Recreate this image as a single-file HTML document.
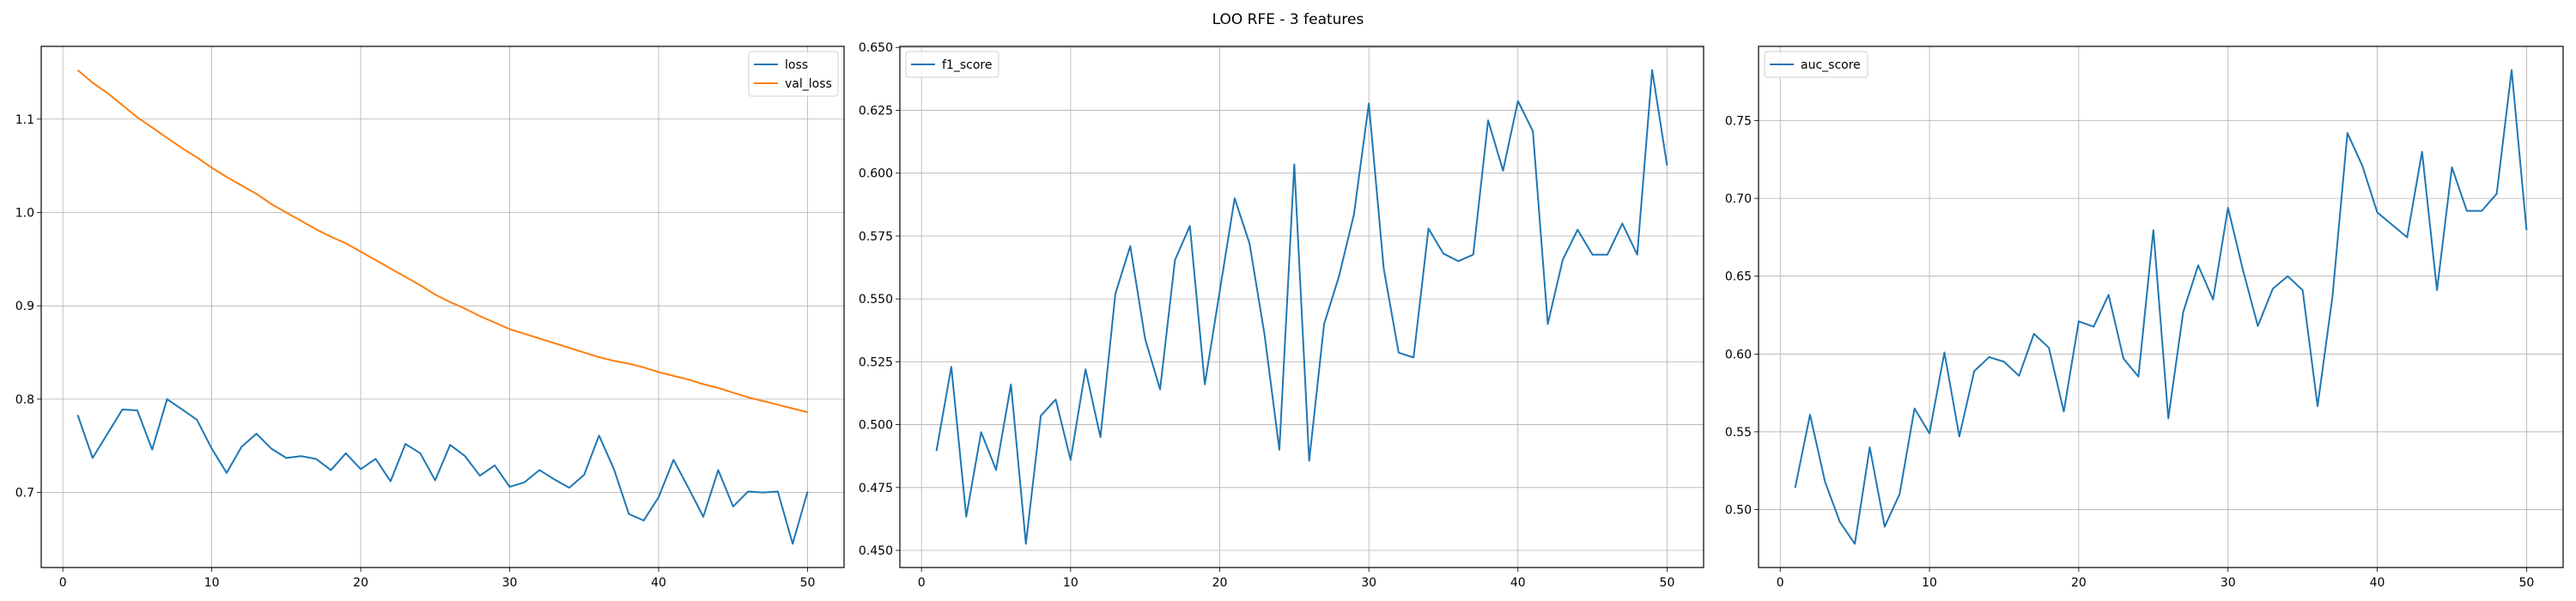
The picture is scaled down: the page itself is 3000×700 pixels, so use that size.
<!DOCTYPE html>
<html><head><meta charset="utf-8"><style>
html,body{margin:0;padding:0;background:#fff;}
svg{display:block;font-family:"DejaVu Sans","Liberation Sans",sans-serif;}
</style></head><body>
<svg id="fig" width="3000" height="700" viewBox="0 0 3000 700">
<rect width="3000" height="700" fill="#fff"/>
<text x="1500" y="28" text-anchor="middle" font-size="17">LOO RFE - 3 features</text>
</svg>
<script>
const epochs = Array.from({length:50},(_,i)=>i+1);
const lossValues = [.783,.737,.763,.789,.788,.746,.800,.789,.778,.747,.721,.749,.763,.747,.737,.739,.736,.724,.742,.725,.736,.712,.752,.742,.713,.751,.739,.718,.729,.706,.711,.724,.714,.705,.719,.761,.725,.677,.670,.695,.735,.705,.674,.724,.685,.701,.700,.701,.645,.701];
const valLossValues = [1.1526,1.139,1.128,1.115,1.102,1.091,1.080,1.069,1.059,1.048,1.038,1.029,1.020,1.009,1.000,.991,.982,.974,.967,.958,.949,.940,.931,.922,.912,.904,.897,.889,.882,.875,.870,.865,.860,.855,.850,.845,.841,.838,.834,.829,.825,.821,.816,.812,.807,.802,.798,.794,.790,.786];
const f1Values = [.4895,.523,.4634,.497,.482,.516,.4526,.5035,.510,.486,.522,.495,.552,.571,.534,.514,.5655,.579,.516,.553,.590,.572,.536,.490,.6035,.4856,.540,.559,.5836,.6277,.562,.5286,.5267,.578,.568,.565,.5676,.621,.601,.6287,.6167,.540,.5655,.5775,.5676,.5676,.580,.5676,.641,.603];
const aucValues = [.514,.561,.518,.492,.478,.540,.489,.510,.565,.549,.601,.547,.589,.598,.595,.586,.613,.604,.563,.621,.6175,.638,.597,.5855,.6796,.5586,.627,.657,.635,.694,.654,.618,.642,.650,.641,.5665,.637,.742,.721,.691,.683,.675,.730,.641,.720,.692,.692,.703,.7825,.6796];
const xTicks = [0,10,20,30,40,50];
const lossTicks = [0.7,0.8,0.9,1.0,1.1];
const f1Ticks = [0.450,0.475,0.500,0.525,0.550,0.575,0.600,0.625,0.650];
const aucTicks = [0.50,0.55,0.60,0.65,0.70,0.75];

const NS="http://www.w3.org/2000/svg";
const svg=document.getElementById('fig');
function mk(tag,attrs,parent){const e=document.createElementNS(NS,tag);for(const k in attrs)e.setAttribute(k,attrs[k]);(parent||svg).appendChild(e);return e;}
const BLUE="#1f77b4",ORANGE="#ff7f0e";

function panel(name,L,R,T,B,series,yTicks,dec,legend){
  const g=mk('g',{});
  
  
  let all=[];series.forEach(s=>all=all.concat(s.values));
  const mn=Math.min(...all),mx=Math.max(...all),pad=(mx-mn)*0.05;
  const y0=mn-pad,y1=mx+pad;
  const xmin=1-49*0.05,xmax=50+49*0.05;
  const sx=v=>L+(v-xmin)/(xmax-xmin)*(R-L);
  const sy=v=>B-(v-y0)/(y1-y0)*(B-T);
  xTicks.forEach(t=>{
    const x=sx(t);
    const gl=mk('line',{x1:x,x2:x,y1:T,y2:B,stroke:'#b0b0b0','stroke-width':0.8},g);
    
    
    mk('line',{x1:x,x2:x,y1:B,y2:B+5,stroke:'#000','stroke-width':0.8},g);
    const tx=mk('text',{x:x,y:B+22,'text-anchor':'middle','font-size':14},g);
    
    
    tx.textContent=t;
  });
  yTicks.forEach(t=>{
    const y=sy(t);
    const gl=mk('line',{x1:L,x2:R,y1:y,y2:y,stroke:'#b0b0b0','stroke-width':0.8},g);
    
    
    mk('line',{x1:L-5,x2:L,y1:y,y2:y,stroke:'#000','stroke-width':0.8},g);
    const tx=mk('text',{x:L-8,y:y+5,'text-anchor':'end','font-size':14},g);
    
    
    tx.textContent=t.toFixed(dec);
  });
  series.forEach(s=>{
    const d=s.values.map((v,i)=>(i?'L':'M')+sx(epochs[i]).toFixed(2)+','+sy(v).toFixed(2)).join('');
    const p=mk('path',{d:d,fill:'none',stroke:s.color,'stroke-width':2,'stroke-linejoin':'round'},g);
    
    
  });
  const fr=mk('rect',{x:L,y:T,width:R-L,height:B-T,fill:'none',stroke:'#000','stroke-width':1.2},g);
  
  
  const lg=mk('g',{},g);
  
  
  mk('rect',{x:legend.x,y:legend.y,width:legend.w,height:8+series.length*22,rx:3,fill:'#fff','fill-opacity':0.8,stroke:'#d0d0d0','stroke-width':1},lg);
  series.forEach((s,i)=>{
    const yy=legend.y+15+i*22;
    mk('line',{x1:legend.x+6,x2:legend.x+34,y1:yy,y2:yy,stroke:s.color,'stroke-width':2},lg);
    const t=mk('text',{x:legend.x+42,y:yy+5,'font-size':14},lg);
    
    
    t.textContent=s.name;
  });
}
panel('loss',48,983,54,661,[{name:'loss',values:lossValues,color:BLUE},{name:'val_loss',values:valLossValues,color:ORANGE}],lossTicks,1,{x:872,y:60,w:104});
panel('f1',1048,1984,54,661,[{name:'f1_score',values:f1Values,color:BLUE}],f1Ticks,3,{x:1055,y:60,w:108});
panel('auc',2048,2985,54,661,[{name:'auc_score',values:aucValues,color:BLUE}],aucTicks,2,{x:2055,y:60,w:120});
</script>
</body></html>
